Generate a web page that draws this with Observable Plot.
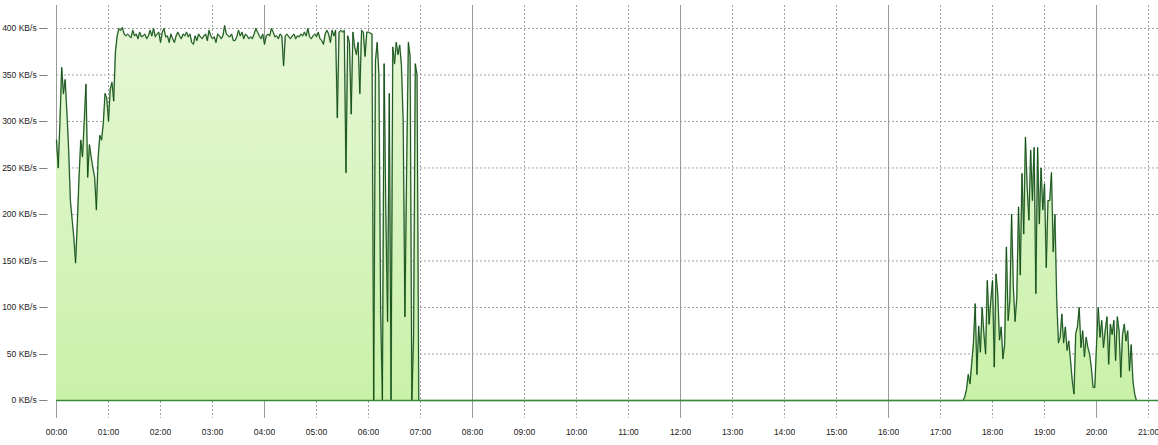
<!DOCTYPE html>
<html><head><meta charset="utf-8">
<script src="https://cdn.jsdelivr.net/npm/d3@7"></script>
<script src="https://cdn.jsdelivr.net/npm/@observablehq/plot@0.6"></script>
<style>body{margin:0;background:#fff} svg{display:block;overflow:visible}</style>
</head><body><div id="chart"></div>
<script>
// sample spacing in minutes
const stepMinutes = 2;
// 00:00 – 06:58 transfer rate (KB/s), one value every 2 minutes
const morningStart = 0;
const morningValues = [
  280, 250, 300, 358, 330, 345, 310, 270, 215, 195, 175, 148, 190, 240, 280, 262, 300, 340, 240, 275,
  262, 250, 240, 205, 260, 285, 280, 298, 330, 325, 300, 335, 342, 322, 375, 392,
  400, 398, 401, 394, 392, 394, 392, 390, 398, 392,
  394, 389, 396, 391, 392, 394, 389, 392, 398, 392,
  400, 391, 394, 396, 385, 396, 400, 391, 392, 385,
  394, 389, 385, 392, 396, 392, 389, 394, 392, 396,
  391, 394, 385, 383, 392, 387, 394, 391, 389, 392,
  394, 387, 398, 392, 389, 391, 385, 394, 392, 389,
  392, 403, 394, 392, 391, 394, 387, 387, 391, 398,
  392, 396, 389, 394, 392, 389, 391, 389, 394, 400,
  396, 392, 389, 394, 383, 392, 394, 392, 400, 396,
  391, 392, 389, 394, 392, 360, 392, 394, 391, 389,
  392, 394, 389, 392, 391, 394, 392, 396, 392, 400,
  391, 389, 392, 394, 391, 396, 389, 387, 383, 394,
  398, 394, 385, 398, 392, 398, 304, 396, 398,
  396, 398, 245, 392, 385, 308, 396, 380, 372, 385,
  330, 398, 396, 370, 396, 396, 395, 394, 0, 365,
  385, 350, 95, 0, 362, 200, 85, 330, 0, 380,
  362, 385, 372, 382, 360, 300, 90, 250, 385, 370,
  0, 70, 362, 350, 0
];
// idle period (minutes)
const idleStart = 420;
const idleValue = 0;
// 17:26 – 20:46 transfer rate (KB/s), one value every 2 minutes
const eveningStart = 1046;
const eveningValues = [
  0, 4, 12, 28, 18, 40, 62, 104, 28, 80,
  52, 100, 72, 50, 129, 82, 107, 129, 36, 136,
  115, 65, 79, 45, 60, 165, 86, 107, 200, 122,
  85, 110, 208, 135, 244, 179, 283, 229, 194, 269,
  215, 272, 115, 272, 190, 250, 205, 233, 143, 215,
  215, 245, 160, 200, 110, 62, 68, 93, 62, 79,
  54, 64, 43, 21, 7, 72, 79, 100, 57, 75,
  47, 68, 57, 50, 35, 14, 14, 60, 100, 68,
  86, 57, 75, 90, 39, 82, 71, 86, 43, 90,
  75, 25, 71, 82, 64, 75, 32, 60, 21, 7, 0
];
const yTicks = [0, 50, 100, 150, 200, 250, 300, 350, 400];
const xTickLabels = ["00:00","01:00","02:00","03:00","04:00","05:00","06:00","07:00","08:00","09:00","10:00",
  "11:00","12:00","13:00","14:00","15:00","16:00","17:00","18:00","19:00","20:00","21:00"];
const xTicks = xTickLabels.map((_, i) => i * 60);
const majorTicks = xTicks.filter((_, i) => i % 4 === 0);
const minorTicks = xTicks.filter((_, i) => i % 4 !== 0);
const xDomainEnd = 1271.5;
const yDomainEnd = 424.7;

const data = [
  ...morningValues.map((v, i) => ({t: morningStart + i * stepMinutes, v})),
  {t: idleStart, v: idleValue},
  ...eveningValues.map((v, i) => ({t: eveningStart + i * stepMinutes, v}))
];

const chart = Plot.plot({
  width: 1158, height: 445,
  marginLeft: 56, marginRight: 0, marginTop: 5, marginBottom: 45,
  style: {fontFamily: "'Liberation Sans', Arial, sans-serif", fontSize: "8.5px", color: "#222", background: "#fff", overflow: "visible"},
  x: {domain: [0, xDomainEnd], axis: null},
  y: {domain: [0, yDomainEnd], axis: null},
  marks: [
    Plot.ruleY(yTicks.filter(d => d > 0), {stroke: "#a3a3a3", strokeDasharray: "2,2"}),
    Plot.ruleX(minorTicks, {stroke: "#a3a3a3", strokeDasharray: "2,2", insetBottom: -18}),
    Plot.ruleX(majorTicks, {stroke: "#9a9a9a", insetBottom: -18}),
    Plot.areaY(data, {x: "t", y: "v", fill: "url(#fillGrad)"}),
    Plot.lineY(data, {x: "t", y: "v", stroke: "#5f9a5f", strokeWidth: 1.6, strokeOpacity: 0.6}),
    Plot.lineY(data, {x: "t", y: "v", stroke: "#0f4a12", strokeWidth: 0.9}),
    Plot.ruleY([0], {stroke: "#3a8a3a", strokeWidth: 1.3}),
    Plot.axisY(yTicks, {tickSize: 0, tickPadding: 9, fill: "#222", label: null, tickFormat: d => `${d} KB/s —`}),
    Plot.axisX(xTicks, {tickSize: 0, tickPadding: 28, fill: "#222", label: null, tickFormat: d => xTickLabels[d / 60]})
  ]
});

const yScale = chart.scale("y");
const svg = d3.select(chart);
const grad = svg.insert("defs", ":first-child").append("linearGradient")
  .attr("id", "fillGrad").attr("gradientUnits", "userSpaceOnUse")
  .attr("x1", 0).attr("x2", 0)
  .attr("y1", yScale.apply(400)).attr("y2", yScale.apply(0));
grad.append("stop").attr("offset", "0%").attr("stop-color", "#e6f7d6");
grad.append("stop").attr("offset", "100%").attr("stop-color", "#c9f1a8");

document.getElementById("chart").appendChild(chart);
</script>
</body></html>
